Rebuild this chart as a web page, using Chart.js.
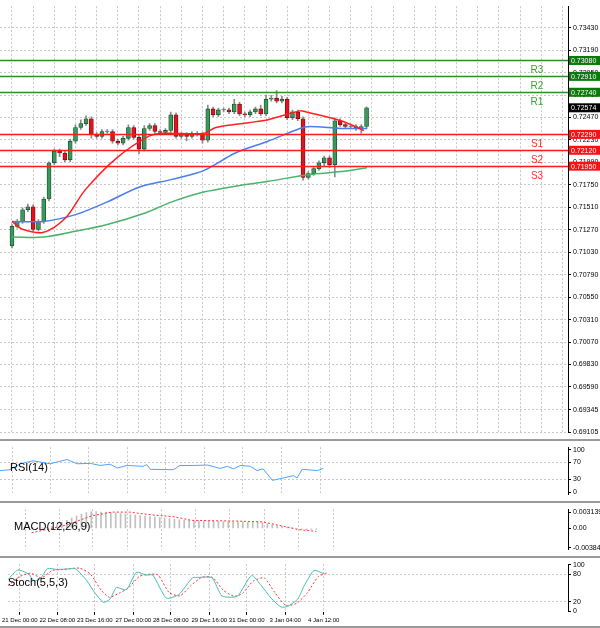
<!DOCTYPE html>
<html><head><meta charset="utf-8">
<script src="https://cdn.jsdelivr.net/npm/chart.js@4/dist/chart.umd.min.js"></script>
<style>
body{margin:0;background:#fff;width:600px;height:628px;overflow:hidden;position:relative;font-family:"Liberation Sans",Arial,sans-serif}
.p{position:absolute;left:0;width:600px}
.sep{position:absolute;left:0;width:600px;height:2px;background:#9a9a9a}
</style></head><body>
<div class="p" style="top:0;height:439px"><canvas id="main"></canvas></div>
<div class="sep" style="top:439px"></div>
<div class="p" style="top:441px;height:60px"><canvas id="rsi"></canvas></div>
<div class="sep" style="top:501px"></div>
<div class="p" style="top:503px;height:53px"><canvas id="macd"></canvas></div>
<div class="sep" style="top:556px"></div>
<div class="p" style="top:558px;height:68px"><canvas id="stoch"></canvas></div>
<div class="sep" style="top:626px"></div>
<script>
// ---- data ----
const firstOpen = 0.71097;
const closes = [0.71307,0.71359,0.71484,0.71516,0.71275,0.71359,0.71599,0.71986,0.72112,0.72091,
0.72018,0.72217,0.72363,0.72405,0.72457,0.72290,0.72269,0.72321,0.72321,0.72217,
0.72196,0.72248,0.72363,0.72258,0.72133,0.72353,0.72384,0.72321,0.72311,0.72332,
0.72499,0.72269,0.72290,0.72269,0.72300,0.72290,0.72227,0.72562,0.72499,0.72551,
0.72551,0.72530,0.72614,0.72509,0.72499,0.72530,0.72562,0.72509,0.72666,0.72677,
0.72645,0.72666,0.72468,0.72530,0.72457,0.71830,0.71871,0.71924,0.71986,0.72039,
0.71966,0.72436,0.72394,0.72374,0.72374,0.72353,0.72374,0.72574];
// wick lengths in pips (1e-4)
const upperWick = [2,2,2,3,2,2,2,1,2,2, 2,2,3,4,3,2,2,2,2,2, 2,2,3,2,2,3,2,2,2,2, 3,2,2,2,2,2,2,4,2,2, 2,2,5,2,2,2,2,4,4,3, 8,3,2,2,2,2,2,2,2,2, 2,3,2,2,2,2,2,1];
const lowerWick = [2,2,2,2,2,2,2,2,2,4, 2,2,2,2,2,4,2,2,2,2, 2,2,2,2,5,2,2,2,2,2, 2,2,2,5,2,2,3,2,2,2, 2,2,2,2,2,2,2,2,2,2, 2,2,2,2,2,3,2,2,2,3, 3,13,2,2,2,2,5,2];
const maFast = [[0,0.71359],[2,0.71275],[6,0.71244],[10.2,0.71401],[13.8,0.71694],[19.8,0.72039],[25.8,0.72269],[28.4,0.72300],[36.2,0.72300],[38.5,0.72363],[44.7,0.72415],[48.4,0.72447],[54.4,0.72541],[55.6,0.72530],[62.2,0.72436],[66.5,0.72332]];
const maMid = [[0,0.71359],[6,0.71359],[12,0.71432],[18,0.71568],[24,0.71725],[30.2,0.71809],[36.2,0.71903],[42.2,0.72091],[48.4,0.72217],[54.4,0.72353],[56.2,0.72374],[62.2,0.72353],[67.1,0.72353]];
const maSlow = [[0,0.71192],[6,0.71192],[12,0.71254],[18,0.71327],[25.3,0.71453],[30.2,0.71568],[36.2,0.71673],[42.2,0.71736],[48.4,0.71788],[56.2,0.71861],[62.2,0.71892],[67.1,0.71934]];
const levelNames = ["R3","R2","R1","S1","S2","S3"];
const levelValues = [0.73080,0.72910,0.72740,0.72290,0.72120,0.71950];
const lastPrice = 0.72574;
const priceTicks = [0.73430,0.73190,0.72950,0.72710,0.72470,0.72230,0.71990,0.71750,0.71510,0.71270,0.71030,0.70790,0.70550,0.70310,0.70070,0.69830,0.69590,0.69345,0.69105];
const rsi = [[-0.2,51],[1.6,53],[3.5,67],[5.8,74],[8.9,67],[12,77],[13.8,67],[16.2,68],[18,63],[19.8,66],[21.1,57],[22.9,63],[25.8,61],[26.5,65],[27.1,54],[31.3,53],[32.5,63],[34.9,63],[37.5,64],[39.8,56],[41.1,61],[42.2,55],[43.5,63],[45.3,61],[46.5,51],[47.6,55],[49.3,28],[53.1,39],[53.8,34],[54.7,54],[57.5,51],[58.5,56]];
const macdHist = [0.0002,0.0001,0.0001,0.0002,0.0004,0.0008,0.0012,0.0016,0.002,0.0024,0.0028,0.0031,0.0033,0.0033,0.0032,0.0032,0.0031,0.003,0.0029,0.0028,0.0027,0.0026,0.0025,0.0024,0.0023,0.0022,0.0021,0.002,0.0019,0.0018,0.0017,0.0016,0.0016,0.0015,0.0015,0.0015,0.0014,0.0014,0.0014,0.0013,0.0013,0.0013,0.0013,0.0013,0.0012,0.0012,0.0012,0.0011,0.0009,0.0007,0.0005,0.0004,0.0002,0.0001,-0.0001,-0.0002,-0.0003,-0.0002,-0.0002];
const macdSignal = [[-0.2,-0.00085],[3.5,-0.0001],[7.1,0.0007],[12,0.00243],[16.2,0.00319],[19.8,0.00319],[24,0.00268],[28.9,0.00228],[32.5,0.00157],[42.2,0.00142],[47.1,0.00127],[51.3,0.00041],[54.4,-0.00024],[58,-0.0006]];
const stochK = [[-0.2,68],[1.6,89],[3.5,81],[4.7,65],[5.9,72],[7.1,92],[8.9,90],[12,92],[12.5,90],[14.4,65],[15.6,43],[17.4,19],[18.6,26],[19.8,51],[21.6,46],[23.5,84],[25.3,78],[26.5,78],[29,28],[31.3,36],[33.8,72],[35,73],[37.4,72],[39.2,33],[41,30],[42.2,33],[44.7,77],[46.5,55],[48.3,28],[50.1,9],[51.3,10],[53.2,26],[54.4,55],[56.2,88],[58,81]];
const stochD = [[-0.2,55],[2,75],[4,82],[6,72],[8,88],[10,90],[13,93],[15,80],[17,45],[18.5,30],[20.5,40],[22,50],[24,75],[26,80],[27.5,78],[29.5,40],[31.5,33],[33.5,55],[35.5,73],[37.5,73],[39.5,45],[41.5,32],[43,38],[45,65],[47,72],[49,40],[51,12],[53,17],[55,40],[57,75],[58.5,82]];
const timeTickPos = [2,8.9,15.8,22.9,29.8,36.9,43.8,50.9,58];
const timeTickLabels = ["21 Dec 00:00","22 Dec 08:00","23 Dec 16:00","27 Dec 00:00","28 Dec 08:00","29 Dec 16:00","31 Dec 00:00","3 Jan 04:00","4 Jan 12:00"];

// ---- common ----
const XMIN=-0.2, XMAX=103;
const FONT = {family:"Liberation Sans", size:7};
const dashGrid = '#c8c8c8';
function yAxis(min,max,ticks,fmt,gridVals){
  return {position:'right',min,max,
    afterFit(s){s.width=32;},
    afterBuildTicks(s){s.ticks=ticks.map(v=>({value:v}));},
    ticks:{font:FONT,color:'#000',padding:2,callback:fmt,autoSkip:false,maxRotation:0},
    grid:{color:c=>(gridVals===null||gridVals.includes(c.tick&&c.tick.value))?dashGrid:'rgba(0,0,0,0)',
      tickColor:'#000',tickLength:3,tickBorderDash:[]},
    border:{display:true,color:'#000',dash:[2,2]}};
}
function xAxis(gridPos,showLabels){
  return {type:'linear',min:XMIN,max:XMAX,
    afterBuildTicks(s){s.ticks=gridPos.map(v=>({value:v}));},
    afterFit(s){ if(!showLabels) s.height=0; },
    ticks:{display:showLabels,font:{family:"Liberation Sans",size:6},color:'#000',maxRotation:0,autoSkip:false,padding:2,
      callback:(v,i)=>showLabels?timeTickLabels[i]:''},
    grid:{color:dashGrid,drawTicks:showLabels,tickLength:3,tickColor:'#000',tickBorderDash:[]},
    border:{display:false,dash:[2,2]}};
}
const frame = {id:'frame',afterDraw(ch){const a=ch.chartArea,c=ch.ctx;c.save();c.strokeStyle='#000';c.lineWidth=1;
  c.beginPath();c.moveTo(Math.round(a.right)+0.5,a.top);c.lineTo(Math.round(a.right)+0.5,a.bottom);c.stroke();c.restore();}};
function label(text,x,y){return {id:'lbl'+text,afterDatasetsDraw(ch){const c=ch.ctx;c.save();c.font='11px "Liberation Sans"';c.fillStyle='#000';c.textBaseline='middle';c.fillText(text,x,y);c.restore();}};}
const baseOpts = {responsive:true,maintainAspectRatio:false,animation:false,
  layout:{padding:{left:0,right:0,top:0,bottom:0}},
  plugins:{legend:{display:false},tooltip:{enabled:false}},
  datasets:{bar:{grouped:false}}};

// ---- main ----
const mainGridX=[]; for(let v=2; v<XMAX; v+=4) mainGridX.push(v);
const opens = [firstOpen].concat(closes.slice(0,-1));
const bodies=[], wicks=[], bodyColors=[], bodyBorders=[];
closes.forEach((c,i)=>{
  const o=opens[i]; let cc=c; if(Math.abs(cc-o)<0.00003) cc=o+0.00003;
  bodies.push({x:i,y:[o,cc]});
  const hi=Math.max(o,c)+upperWick[i]*1e-4, lo=Math.min(o,c)-lowerWick[i]*1e-4;
  wicks.push({x:i,y:[lo,hi]});
  const up=c>=o;
  bodyColors.push(up?'#3a9a5c':'#e0141e'); bodyBorders.push(up?'#1d4d2c':'#7a0a0a');
});
const levels = {id:'levels',afterDatasetsDraw(ch){
  const c=ch.ctx,a=ch.chartArea,y=ch.scales.y;c.save();
  levelValues.forEach((v,i)=>{
    const res=i<3, col=res?'#2e8b2e':'#ff1a1a', py=Math.round(y.getPixelForValue(v))+0.5;
    c.strokeStyle=col;c.lineWidth=1.6;c.beginPath();c.moveTo(a.left,py);c.lineTo(a.right,py);c.stroke();
    c.font='10px "Liberation Sans"';c.fillStyle=res?'#3f9f3f':'#ff3030';c.textAlign='center';c.textBaseline='middle';
    c.fillText(levelNames[i],537,py+10);
  });
  const box=(v,bg)=>{const py=y.getPixelForValue(v);c.fillStyle=bg;c.fillRect(a.right+1,py-4.5,31,9);
    c.fillStyle='#fff';c.font='7px "Liberation Sans"';c.textAlign='left';c.textBaseline='middle';c.fillText(v.toFixed(5),a.right+3,py+0.5);};
  levelValues.forEach((v,i)=>box(v,i<3?'#0a7a0a':'#ff1010'));
  box(lastPrice,'#000');
  c.restore();}};
new Chart(document.getElementById('main'),{
  data:{datasets:[
    {type:'line',data:maFast.map(p=>({x:p[0],y:p[1]})),borderColor:'#ff2020',borderWidth:1.5,pointRadius:0,order:0,tension:0.3},
    {type:'line',data:maMid.map(p=>({x:p[0],y:p[1]})),borderColor:'#4a7ee8',borderWidth:1.5,pointRadius:0,order:0,tension:0.3},
    {type:'line',data:maSlow.map(p=>({x:p[0],y:p[1]})),borderColor:'#4cb36b',borderWidth:1.5,pointRadius:0,order:0,tension:0.3},
    {type:'bar',data:bodies,backgroundColor:bodyColors,borderColor:bodyBorders,borderWidth:0.8,borderSkipped:false,barThickness:4,order:1},
    {type:'bar',data:wicks,backgroundColor:'#8a8a8a',barThickness:1,order:2}
  ]},
  options:Object.assign({},baseOpts,{layout:{padding:{top:2,bottom:2}},scales:{
    x:xAxis(mainGridX,false),
    y:yAxis(0.6910,0.7366,priceTicks,v=>v.toFixed(5),null)}}),
  plugins:[levels,frame]
});
const subGridX = timeTickPos;
// ---- RSI ----
new Chart(document.getElementById('rsi'),{
  data:{datasets:[{type:'line',data:rsi.map(p=>({x:p[0],y:p[1]})),borderColor:'#4da3ff',borderWidth:1,pointRadius:0}]},
  options:Object.assign({},baseOpts,{scales:{x:xAxis(subGridX,false),
    y:yAxis(-6,106,[100,70,30,0],v=>String(v),[70,30])}}),
  plugins:[frame,label('RSI(14)',10,27)]
});
// ---- MACD ----
new Chart(document.getElementById('macd'),{
  data:{datasets:[
    {type:'line',data:macdSignal.map(p=>({x:p[0],y:p[1]})),borderColor:'#ff3030',borderWidth:1,borderDash:[2,2],pointRadius:0,order:0},
    {type:'bar',data:macdHist.map((v,i)=>({x:i,y:v})),backgroundColor:'#c0c0c0',barThickness:1,order:1}]},
  options:Object.assign({},baseOpts,{scales:{x:xAxis(subGridX,false),
    y:yAxis(-0.0042,0.00376,[0.003139,0,-0.00384],v=>v===0?'0.00':(v>0?'0.003139':'-0.00384'),[])}}),
  plugins:[frame,label('MACD(12,26,9)',14,24)]
});
// ---- Stoch ----
new Chart(document.getElementById('stoch'),{
  data:{datasets:[
    {type:'line',data:stochK.map(p=>({x:p[0],y:p[1]})),borderColor:'#40c0b0',borderWidth:1,pointRadius:0,tension:0.2},
    {type:'line',data:stochD.map(p=>({x:p[0],y:p[1]})),borderColor:'#ff3030',borderWidth:1,borderDash:[2,2],pointRadius:0,tension:0.2}]},
  options:Object.assign({},baseOpts,{scales:{x:xAxis(subGridX,true),
    y:yAxis(-1.5,101.5,[100,80,20,0],v=>String(v),[80,20])}}),
  plugins:[frame,label('Stoch(5,5,3)',8,25)]
});
</script></body></html>
